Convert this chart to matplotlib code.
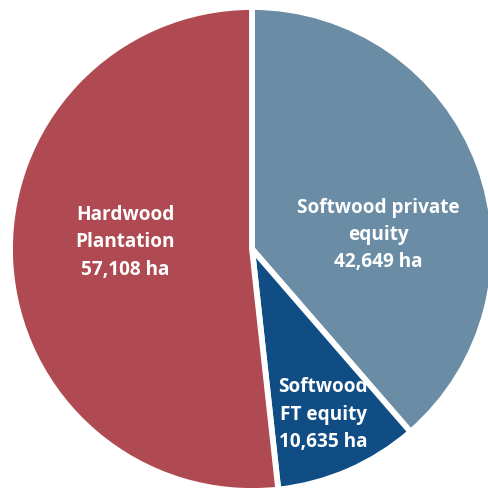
import matplotlib
matplotlib.use("Agg")
import matplotlib.pyplot as plt

labels = ["Softwood private\nequity", "Softwood\nFT equity", "Hardwood\nPlantation"]
areas_ha = [42649, 10635, 57108]
colors = ["#6A8CA5", "#0F4D84", "#AF4A52"]
label_pos = [(378, 235), (323, 415), (125, 242)]  # pixel centres of text blocks

W = H = 488
cx, cy, R = 252, 249, 242

fig = plt.figure(figsize=(W / 100, H / 100), dpi=100)
ax = fig.add_axes([0, 0, 1, 1])
wedges, _ = ax.pie(
    areas_ha, colors=colors, startangle=90, counterclock=False, radius=1,
    wedgeprops=dict(edgecolor="white", linewidth=4.2),
)
ax.set_xlim(-cx / R, (W - cx) / R)
ax.set_ylim(-(H - cy) / R, cy / R)
ax.set_aspect("equal")
ax.axis("off")

for lab, val, (px, py) in zip(labels, areas_ha, label_pos):
    x = (px - cx) / R
    y = (cy - py) / R
    ax.text(x, y, f"{lab}\n{val:,} ha", ha="center", va="center",
            color="white", fontsize=13.7, fontweight="bold", family="Open Sans",
            linespacing=1.5)

fig.savefig("out.png", dpi=100, facecolor="white")
